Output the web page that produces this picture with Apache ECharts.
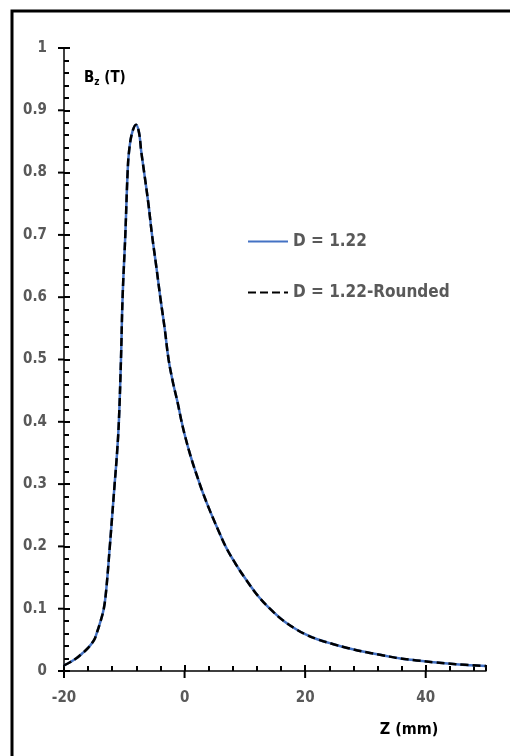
<!DOCTYPE html>
<html>
<head>
<meta charset="utf-8">
<script src="https://cdn.jsdelivr.net/npm/echarts@6/dist/echarts.min.js"></script>
<style>
html,body{margin:0;padding:0;background:#fff;}
#chart{width:510px;height:756px;}
</style>
</head>
<body>
<div id="chart"></div>
<script>
// Z (mm)
var zValues = [-20,-19,-18,-17,-16,-15,-14.6,-14,-13.4,-13,-12.4,-12,-11.6,-11.2,-10.9,-10.55,-10.28,-9.83,-9.45,-9.2,-8.7,-8.05,-7.55,-7.2,-6.7,-6.0,-5.4,-4.7,-4.03,-3.3,-2.65,-1.9,-1.2,-0.6,0,1,2,3,4.3,5.5,6.8,8.4,10.1,12.4,14.8,16.5,18.5,20,22,24.7,27,30.2,33,35.8,38.5,41.3,45,50];
// Bz (T), D = 1.22
var bzD122 = [0.009,0.014,0.020,0.028,0.037,0.050,0.060,0.078,0.10,0.13,0.20,0.25,0.30,0.35,0.40,0.50,0.60,0.70,0.80,0.835,0.864,0.877,0.864,0.835,0.80,0.75,0.70,0.65,0.60,0.55,0.50,0.462,0.433,0.405,0.38,0.345,0.315,0.287,0.255,0.228,0.20,0.173,0.148,0.118,0.094,0.08,0.067,0.059,0.051,0.043,0.037,0.030,0.025,0.020,0.017,0.014,0.011,0.008];
// Bz (T), D = 1.22-Rounded
var bzD122Rounded = [0.009,0.014,0.020,0.028,0.037,0.050,0.060,0.078,0.10,0.13,0.20,0.25,0.30,0.35,0.40,0.50,0.60,0.70,0.80,0.835,0.864,0.877,0.864,0.835,0.80,0.75,0.70,0.65,0.60,0.55,0.50,0.462,0.433,0.405,0.38,0.345,0.315,0.287,0.255,0.228,0.20,0.173,0.148,0.118,0.094,0.08,0.067,0.059,0.051,0.043,0.037,0.030,0.025,0.020,0.017,0.014,0.011,0.008];
var seriesNames = ['D = 1.22', 'D = 1.22-Rounded'];
var xTickLabels = [-20, 0, 20, 40];
var yTickLabels = [0, 0.1, 0.2, 0.3, 0.4, 0.5, 0.6, 0.7, 0.8, 0.9, 1];

function pairs(xs, ys){ return xs.map(function(x,i){ return [x, ys[i]]; }); }
var xMajor = xTickLabels.map(function(v){ return [v, 0]; });
var yMajor = yTickLabels.map(function(v){ return [-20, v]; });

var FONT = "'Liberation Sans Narrow','DejaVu Sans Condensed','Liberation Sans',sans-serif";
var lineCol = '#000';

var chart = echarts.init(document.getElementById('chart'));
chart.setOption({
  animation:false,
  backgroundColor:'#fff',
  grid:{left:64, right:24, top:48, bottom:85, containLabel:false},
  xAxis:{
    type:'value', min:-20, max:50, interval:20,
    splitLine:{show:false},
    axisLine:{show:true, onZero:false, lineStyle:{color:lineCol, width:1.5}},
    axisTick:{show:true, inside:true, length:6, lineStyle:{color:lineCol, width:2}},
    minorTick:{show:true, splitNumber:5, length:5, lineStyle:{color:lineCol, width:2}},
    axisLabel:{show:true, showMaxLabel:false, margin:20, color:'#595959', fontWeight:'bold', fontSize:15, fontFamily:FONT}
  },
  yAxis:{
    type:'value', min:0, max:1, interval:0.1,
    splitLine:{show:false},
    axisLine:{show:true, onZero:false, lineStyle:{color:lineCol, width:1.5}},
    axisTick:{show:true, inside:true, length:6, lineStyle:{color:lineCol, width:2}},
    minorTick:{show:true, splitNumber:5, length:5, lineStyle:{color:lineCol, width:2}},
    axisLabel:{show:true, margin:17, color:'#595959', fontWeight:'bold', fontSize:15, fontFamily:FONT,
      formatter:function(v){ return String(Math.round(v*10)/10); }}
  },
  legend:{
    orient:'vertical', left:247, top:233, padding:0,
    itemWidth:40, itemHeight:14, itemGap:34,
    itemStyle:{opacity:0},
    textStyle:{color:'#595959', fontWeight:'bold', fontSize:17, fontFamily:FONT},
    data:seriesNames
  },
  series:[
    {
      name:seriesNames[0], type:'line',
      data:pairs(zValues, bzD122), symbol:'none', smooth:0.4,
      lineStyle:{color:'#4472C4', width:2.5}, itemStyle:{color:'#4472C4'}, z:2
    },
    {
      name:seriesNames[1], type:'line',
      data:pairs(zValues, bzD122Rounded), symbol:'none', smooth:0.4,
      lineStyle:{color:'#000000', width:2.5, type:[8,4]}, itemStyle:{color:'#000000'}, z:3
    },
    {
      name:'xMajorOut', type:'custom', silent:true, clip:false,
      data:xMajor,
      renderItem:function(params, api){
        var p = api.coord([api.value(0), 0]);
        return {type:'line', shape:{x1:p[0], y1:p[1], x2:p[0], y2:p[1]+7}, style:{stroke:'#000', lineWidth:2}};
      }
    },
    {
      name:'yMajorOut', type:'custom', silent:true, clip:false,
      data:yMajor,
      renderItem:function(params, api){
        var p = api.coord([-20, api.value(1)]);
        return {type:'line', shape:{x1:p[0]-6, y1:p[1], x2:p[0], y2:p[1]}, style:{stroke:'#000', lineWidth:2}};
      }
    }
  ],
  graphic:[
    {type:'rect', shape:{x:12, y:11, width:620, height:820}, style:{fill:null, stroke:'#000', lineWidth:3}, silent:true, z:100},
    {type:'text', x:409, y:730, style:{text:'Z (mm)', fill:'#000', font:'bold 16px '+FONT, textAlign:'center', textVerticalAlign:'middle'}},
    {type:'text', x:84, y:78, style:{
      text:'{b|B}{s|z}{b| (T)}', textVerticalAlign:'middle',
      rich:{
        b:{fill:'#000', fontWeight:'bold', fontSize:15, fontFamily:FONT},
        s:{fill:'#000', fontWeight:'bold', fontSize:10, fontFamily:FONT, padding:[8,0,0,0]}
      }
    }}
  ]
});
</script>
</body>
</html>
